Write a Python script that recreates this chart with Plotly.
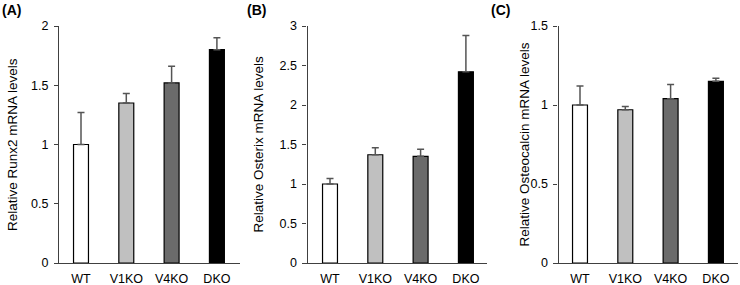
import plotly.graph_objects as go

categories = ["WT", "V1KO", "V4KO", "DKO"]
bar_colors = ["#ffffff", "#c0c0c0", "#6b6b6b", "#000000"]

runx2_vals = [1.00, 1.35, 1.52, 1.80]
runx2_err = [0.27, 0.08, 0.14, 0.10]

osterix_vals = [1.00, 1.37, 1.35, 2.42]
osterix_err = [0.07, 0.09, 0.09, 0.46]

osteocalcin_vals = [1.00, 0.97, 1.04, 1.15]
osteocalcin_err = [0.12, 0.02, 0.09, 0.02]

panel_labels = ["(A)", "(B)", "(C)"]
y_titles = ["Relative Runx2 mRNA levels", "Relative Osterix mRNA levels",
            "Relative Osteocalcin mRNA levels"]
y_max = [2, 3, 1.5]

W, H = 740, 285
# layout geometry in pixels: x-line left, y-axis position, first bar centre, x-line right
geom = [(54, 58, 81.0, 240), (303, 306.5, 330.0, 487), (553, 557.5, 580.0, 738)]
cat_px = 45.3
y_top_px, y_bot_px = 26, 263
title_x_px = [12.5, 258, 524]
label_x_px = [0, 245, 489]

FONT = "Liberation Sans, Arial, sans-serif"

fig = go.Figure()
data = [(runx2_vals, runx2_err), (osterix_vals, osterix_err), (osteocalcin_vals, osteocalcin_err)]
for i, (vals, err) in enumerate(data):
    sfx = "" if i == 0 else str(i + 1)
    fig.add_trace(go.Bar(
        x=categories, y=vals,
        marker=dict(color=bar_colors, line=dict(color="#000000", width=1.2)),
        error_y=dict(type="data", array=err, arrayminus=[0] * len(err), symmetric=False,
                     color="#555555", thickness=1.5, width=3.5),
        xaxis="x" + sfx, yaxis="y" + sfx, showlegend=False, hoverinfo="skip",
    ))

layout = dict(
    template="none",
    width=W, height=H, margin=dict(l=0, r=0, t=0, b=0, autoexpand=False),
    paper_bgcolor="white", plot_bgcolor="white",
    bargap=0.67,
    font=dict(family=FONT, size=12, color="#000000"),
)
ydom = [(H - y_bot_px) / H, (H - y_top_px) / H]
annotations = []
n = len(categories)
for i in range(3):
    sfx = "" if i == 0 else str(i + 1)
    L, yx, c0, R = geom[i]
    c_last = c0 + (n - 1) * cat_px
    layout["xaxis" + sfx] = dict(
        domain=[L / W, R / W], anchor="y" + sfx, type="category",
        range=[-(c0 - L) / cat_px, (n - 1) + (R - c_last) / cat_px], automargin=False,
        showline=True, linecolor="#404040", linewidth=1.2,
        ticks="", showgrid=False, zeroline=False,
        tickfont=dict(size=12.5, family=FONT, color="#000000"),
        ticklabelstandoff=4,
    )
    layout["yaxis" + sfx] = dict(
        domain=ydom, anchor="free", position=yx / W, overlaying=None, automargin=False,
        range=[0, y_max[i]], dtick=0.5, tick0=0,
        showline=True, linecolor="#404040", linewidth=1.2,
        ticks="outside", ticklen=4, tickcolor="#404040", tickwidth=1.2,
        ticklabelstandoff=3,
        showgrid=False, zeroline=False,
        tickfont=dict(size=12.5, family=FONT, color="#000000"),
    )
    annotations.append(dict(
        text=y_titles[i], textangle=-90, showarrow=False,
        xref="paper", yref="paper", x=title_x_px[i] / W,
        y=(H - (y_top_px + y_bot_px) / 2) / H,
        xanchor="center", yanchor="middle",
        font=dict(size=13.5, family=FONT, color="#000000"),
    ))
    annotations.append(dict(
        text="<b>" + panel_labels[i] + "</b>", showarrow=False,
        xref="paper", yref="paper", x=label_x_px[i] / W, y=1,
        xanchor="left", yanchor="top",
        font=dict(size=14, family=FONT, color="#000000"),
    ))
layout["annotations"] = annotations
fig.update_layout(**layout)
fig.write_html("out.html", config={"displayModeBar": False},
               post_script="document.body.style.margin='0';document.body.style.overflow='hidden';")
